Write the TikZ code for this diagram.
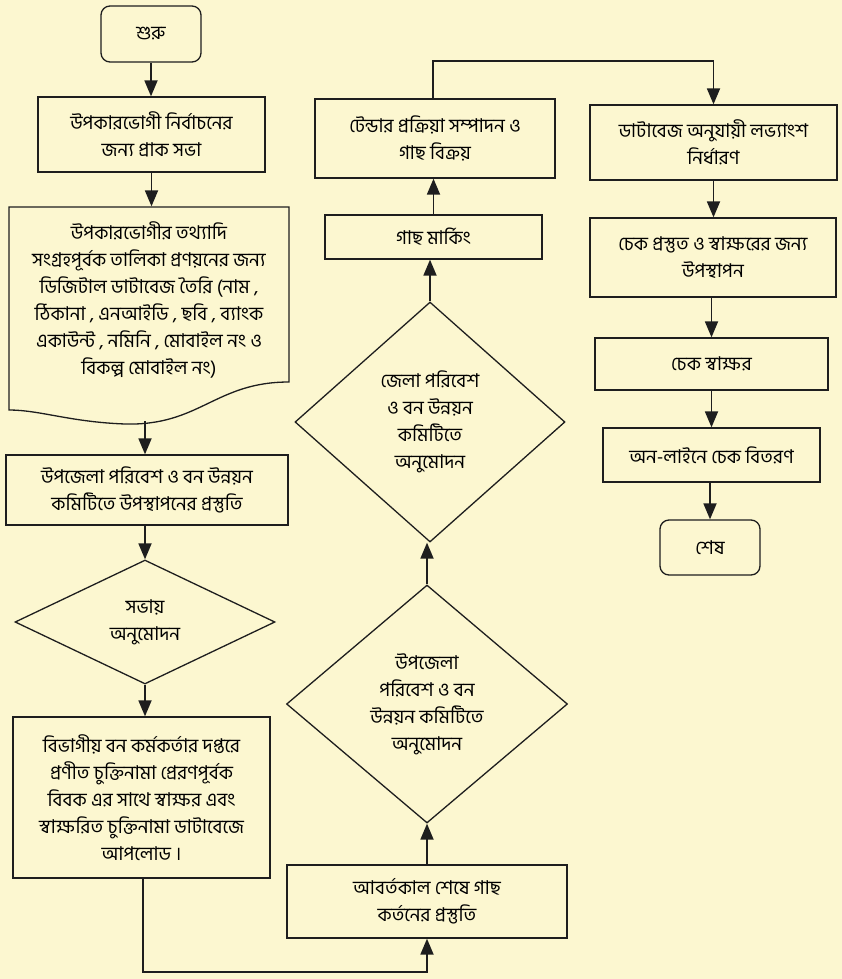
\documentclass[tikz,border=0pt]{standalone}
\usepackage{fontspec}
\newfontfamily\bn[Script=Bengali]{Hind Siliguri}
\usetikzlibrary{arrows.meta,shapes.geometric}
\definecolor{bgc}{RGB}{252,247,208}
\definecolor{ink}{RGB}{30,30,30}
\tikzset{
  txt/.style={font=\bn\fontsize{19}{27}\selectfont},
  box/.style={draw=ink,line width=1.3pt,rectangle,align=center,inner sep=2pt,txt},
  rbox/.style={box,rounded corners=9pt},
  dia/.style={draw=ink,line width=1.3pt,diamond,align=center,inner sep=0pt,txt},
  arr/.style={draw=ink,line width=1.8pt,-{Triangle[width=13pt,length=16pt]}}
}
\begin{document}
\begin{tikzpicture}[x=1pt,y=-1pt]
\fill[bgc] (0,0) rectangle (842,979);
\useasboundingbox (0,0) rectangle (842,979);
% left column
\node[rbox,minimum width=100pt,minimum height=56pt] (start) at (151,34) {শুরু};
\node[box,minimum width=227pt,minimum height=75pt] (n1) at (151.5,134.5) {উপকারভোগী নির্বাচনের\\জন্য প্রাক সভা};
\node[box,draw=none,minimum width=280pt,minimum height=175pt] (doc) at (149,294.5) {};
\draw[ink,line width=1.3pt] (9,207) -- (289,207) -- (289,382)
  .. controls (215,382) and (200,426) .. (125,424)
  .. controls (70,422) and (40,410) .. (9,410) -- cycle;
\node[txt,align=center] (doctext) at (149,300) {উপকারভোগীর তথ্যাদি\\সংগ্রহপূর্বক তালিকা প্রণয়নের জন্য\\ডিজিটাল ডাটাবেজ তৈরি (নাম ,\\ঠিকানা , এনআইডি , ছবি , ব্যাংক\\একাউন্ট , নমিনি , মোবাইল নং ও\\বিকল্প মোবাইল নং)};
\coordinate (docb) at (145,421);
\node[box,minimum width=282pt,minimum height=70pt] (n3) at (147,490) {উপজেলা পরিবেশ ও বন উন্নয়ন\\কমিটিতে উপস্থাপনের প্রস্তুতি};
\node[dia,minimum width=260pt,minimum height=124pt] (d1) at (145,622) {সভায়\\অনুমোদন};
\node[box,minimum width=257pt,minimum height=161pt] (n4) at (141.5,797.5) {বিভাগীয় বন কর্মকর্তার দপ্তরে\\প্রণীত চুক্তিনামা প্রেরণপূর্বক\\বিবক এর সাথে স্বাক্ষর এবং\\স্বাক্ষরিত চুক্তিনামা ডাটাবেজে\\আপলোড ।};
% middle column
\node[box,minimum width=280pt,minimum height=73pt] (n5) at (427,901.5) {আবর্তকাল শেষে গাছ\\কর্তনের প্রস্তুতি};
\node[dia,minimum width=281pt,minimum height=238pt] (d2) at (427,704) {উপজেলা\\পরিবেশ ও বন\\উন্নয়ন কমিটিতে\\অনুমোদন};
\node[dia,minimum width=270pt,minimum height=240pt] (d3) at (430,422) {জেলা পরিবেশ\\ও বন উন্নয়ন\\কমিটিতে\\অনুমোদন};
\node[box,minimum width=217pt,minimum height=44pt] (n6) at (433.5,237) {গাছ মার্কিং};
\node[box,minimum width=240pt,minimum height=79pt] (n7) at (435,138.5) {টেন্ডার প্রক্রিয়া সম্পাদন ও\\গাছ বিক্রয়};
% right column
\node[box,minimum width=247pt,minimum height=75pt] (n8) at (713.5,142.5) {ডাটাবেজ অনুযায়ী লভ্যাংশ\\নির্ধারণ};
\node[box,minimum width=246pt,minimum height=79pt] (n9) at (713,257.5) {চেক প্রস্তুত ও স্বাক্ষরের জন্য\\উপস্থাপন};
\node[box,minimum width=233pt,minimum height=52pt] (n10) at (711.5,364) {চেক স্বাক্ষর};
\node[box,minimum width=217pt,minimum height=54pt] (n11) at (711.5,455) {অন-লাইনে চেক বিতরণ};
\node[rbox,minimum width=100pt,minimum height=55pt] (end) at (710,547.5) {শেষ};
% connectors
\coordinate (c1) at (143,972);
\coordinate (c2) at (433,61);
\draw[arr] (start.south) -- (start.south |- n1.north);
\draw[arr] (n1.south) -- (n1.south |- doc.north);
\draw[arr] (docb) -- (docb |- n3.north);
\draw[arr] (n3.south -| d1.north) -- (d1.north);
\draw[arr] (d1.south) -- (d1.south |- n4.north);
\draw[arr] (c1 |- n4.south) -- (c1) -| (n5.south);
\draw[arr] (n5.north -| d2.south) -- (d2.south);
\draw[arr] (d2.north) -- (d2.north |- d3.south);
\draw[arr] (d3.north) -- (d3.north |- n6.south);
\draw[arr] (n6.north) -- (n6.north |- n7.south);
\draw[arr] (c2 |- n7.north) -- (c2) -| (n8.north);
\draw[arr] (n8.south) -- (n8.south |- n9.north);
\draw[arr] (n9.south -| n10.north) -- (n10.north);
\draw[arr] (n10.south) -- (n10.south |- n11.north);
\draw[arr] (n11.south -| end.north) -- (end.north);
\end{tikzpicture}
\end{document}
